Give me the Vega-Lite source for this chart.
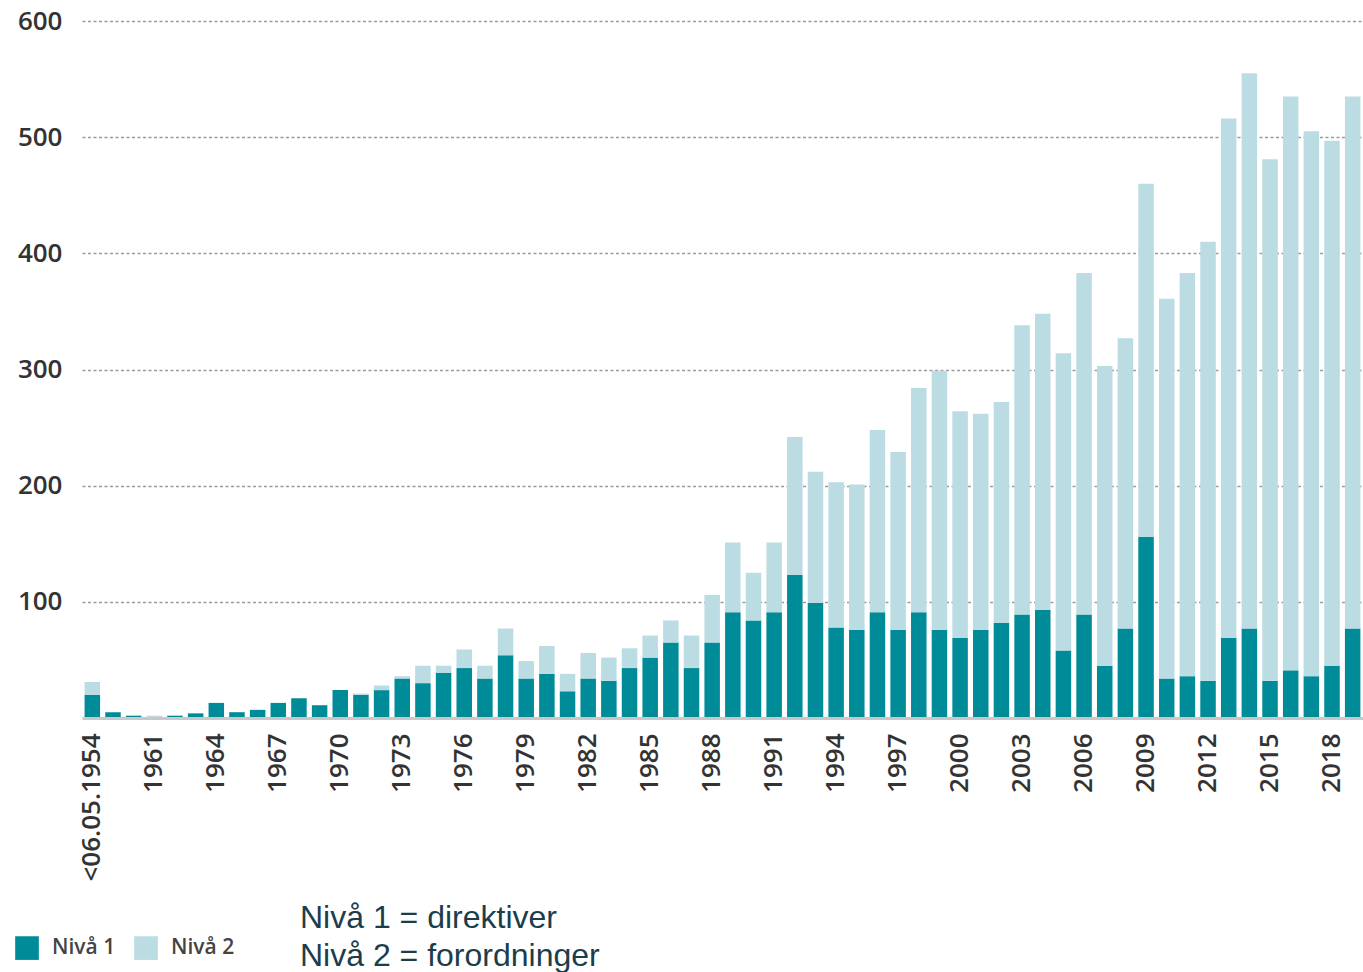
{
  "$schema": "https://vega.github.io/schema/vega-lite/v6.json",
  "autosize": {"type": "none"},
  "width": 1281,
  "height": 697,
  "padding": {"left": 82, "top": 21, "right": 0, "bottom": 254},
  "background": "white",
  "config": {"view": {"stroke": null}},
  "title": {
    "text": ["Nivå 1 = direktiver", "Nivå 2 = forordninger"],
    "orient": "bottom",
    "anchor": "start",
    "frame": "group",
    "font": "Liberation Sans",
    "fontSize": 32,
    "fontWeight": "normal",
    "color": "#1C3D4C",
    "lineHeight": 38,
    "baseline": "top",
    "dx": 218,
    "offset": -57
  },
  "data": {
    "values": [
      {"year": "<06.05.1954", "Nivå 1": 20, "Nivå 2": 11},
      {"year": "1959", "Nivå 1": 5, "Nivå 2": 0},
      {"year": "1960", "Nivå 1": 2, "Nivå 2": 0},
      {"year": "1961", "Nivå 1": 0, "Nivå 2": 2},
      {"year": "1962", "Nivå 1": 2, "Nivå 2": 0},
      {"year": "1963", "Nivå 1": 4, "Nivå 2": 0},
      {"year": "1964", "Nivå 1": 13, "Nivå 2": 0},
      {"year": "1965", "Nivå 1": 5, "Nivå 2": 0},
      {"year": "1966", "Nivå 1": 7, "Nivå 2": 0},
      {"year": "1967", "Nivå 1": 13, "Nivå 2": 0},
      {"year": "1968", "Nivå 1": 17, "Nivå 2": 0},
      {"year": "1969", "Nivå 1": 11, "Nivå 2": 0},
      {"year": "1970", "Nivå 1": 24, "Nivå 2": 0},
      {"year": "1971", "Nivå 1": 20, "Nivå 2": 1},
      {"year": "1972", "Nivå 1": 24, "Nivå 2": 4},
      {"year": "1973", "Nivå 1": 34, "Nivå 2": 2},
      {"year": "1974", "Nivå 1": 30, "Nivå 2": 15},
      {"year": "1975", "Nivå 1": 39, "Nivå 2": 6},
      {"year": "1976", "Nivå 1": 43, "Nivå 2": 16},
      {"year": "1977", "Nivå 1": 34, "Nivå 2": 11},
      {"year": "1978", "Nivå 1": 54, "Nivå 2": 23},
      {"year": "1979", "Nivå 1": 34, "Nivå 2": 15},
      {"year": "1980", "Nivå 1": 38, "Nivå 2": 24},
      {"year": "1981", "Nivå 1": 23, "Nivå 2": 15},
      {"year": "1982", "Nivå 1": 34, "Nivå 2": 22},
      {"year": "1983", "Nivå 1": 32, "Nivå 2": 20},
      {"year": "1984", "Nivå 1": 43, "Nivå 2": 17},
      {"year": "1985", "Nivå 1": 52, "Nivå 2": 19},
      {"year": "1986", "Nivå 1": 65, "Nivå 2": 19},
      {"year": "1987", "Nivå 1": 43, "Nivå 2": 28},
      {"year": "1988", "Nivå 1": 65, "Nivå 2": 41},
      {"year": "1989", "Nivå 1": 91, "Nivå 2": 60},
      {"year": "1990", "Nivå 1": 84, "Nivå 2": 41},
      {"year": "1991", "Nivå 1": 91, "Nivå 2": 60},
      {"year": "1992", "Nivå 1": 123, "Nivå 2": 119},
      {"year": "1993", "Nivå 1": 99, "Nivå 2": 113},
      {"year": "1994", "Nivå 1": 78, "Nivå 2": 125},
      {"year": "1995", "Nivå 1": 76, "Nivå 2": 125},
      {"year": "1996", "Nivå 1": 91, "Nivå 2": 157},
      {"year": "1997", "Nivå 1": 76, "Nivå 2": 153},
      {"year": "1998", "Nivå 1": 91, "Nivå 2": 193},
      {"year": "1999", "Nivå 1": 76, "Nivå 2": 223},
      {"year": "2000", "Nivå 1": 69, "Nivå 2": 195},
      {"year": "2001", "Nivå 1": 76, "Nivå 2": 186},
      {"year": "2002", "Nivå 1": 82, "Nivå 2": 190},
      {"year": "2003", "Nivå 1": 89, "Nivå 2": 249},
      {"year": "2004", "Nivå 1": 93, "Nivå 2": 255},
      {"year": "2005", "Nivå 1": 58, "Nivå 2": 256},
      {"year": "2006", "Nivå 1": 89, "Nivå 2": 294},
      {"year": "2007", "Nivå 1": 45, "Nivå 2": 258},
      {"year": "2008", "Nivå 1": 77, "Nivå 2": 250},
      {"year": "2009", "Nivå 1": 156, "Nivå 2": 304},
      {"year": "2010", "Nivå 1": 34, "Nivå 2": 327},
      {"year": "2011", "Nivå 1": 36, "Nivå 2": 347},
      {"year": "2012", "Nivå 1": 32, "Nivå 2": 378},
      {"year": "2013", "Nivå 1": 69, "Nivå 2": 447},
      {"year": "2014", "Nivå 1": 77, "Nivå 2": 478},
      {"year": "2015", "Nivå 1": 32, "Nivå 2": 449},
      {"year": "2016", "Nivå 1": 41, "Nivå 2": 494},
      {"year": "2017", "Nivå 1": 36, "Nivå 2": 469},
      {"year": "2018", "Nivå 1": 45, "Nivå 2": 452},
      {"year": "2019", "Nivå 1": 77, "Nivå 2": 458}
    ]
  },
  "transform": [
    {"fold": ["Nivå 1", "Nivå 2"], "as": ["level", "count"]}
  ],
  "mark": {"type": "bar"},
  "encoding": {
    "x": {
      "field": "year",
      "type": "nominal",
      "sort": null,
      "scale": {"paddingInner": 0.25, "paddingOuter": 0.125},
      "axis": {
        "title": null,
        "values": ["<06.05.1954", "1961", "1964", "1967", "1970", "1973", "1976", "1979", "1982", "1985", "1988", "1991", "1994", "1997", "2000", "2003", "2006", "2009", "2012", "2015", "2018"],
        "labelAngle": -90,
        "labelFont": "Open Sans",
        "labelFontSize": 26,
        "labelFontWeight": 600,
        "labelColor": "#333333",
        "labelPadding": 15,
        "ticks": false,
        "tickSize": 0,
        "domain": true,
        "domainColor": "#c8c8c8",
        "domainWidth": 3,
        "grid": false,
        "zindex": 1
      }
    },
    "y": {
      "field": "count",
      "type": "quantitative",
      "stack": "zero",
      "scale": {"domain": [0, 600], "nice": false},
      "axis": {
        "title": null,
        "values": [100, 200, 300, 400, 500, 600],
        "labelFont": "Open Sans",
        "labelFontSize": 26,
        "labelFontWeight": 600,
        "labelColor": "#333333",
        "labelPadding": 20,
        "ticks": false,
        "tickSize": 0,
        "domain": false,
        "grid": true,
        "gridColor": "#9a9a9a",
        "gridWidth": 1.5,
        "gridDash": [3, 2.5]
      }
    },
    "color": {
      "field": "level",
      "type": "nominal",
      "scale": {"domain": ["Nivå 1", "Nivå 2"], "range": ["#008B98", "#BBDCE2"]},
      "legend": {
        "title": null,
        "orient": "none",
        "direction": "horizontal",
        "legendX": -67,
        "legendY": 915,
        "symbolType": "square",
        "symbolSize": 560,
        "symbolStrokeWidth": 0,
        "symbolOpacity": 1,
        "labelFont": "Open Sans",
        "labelFontSize": 21,
        "labelFontWeight": 600,
        "labelColor": "#444444",
        "labelOffset": 13,
        "columnPadding": 18
      }
    },
    "order": {"field": "level", "sort": "ascending"}
  }
}
